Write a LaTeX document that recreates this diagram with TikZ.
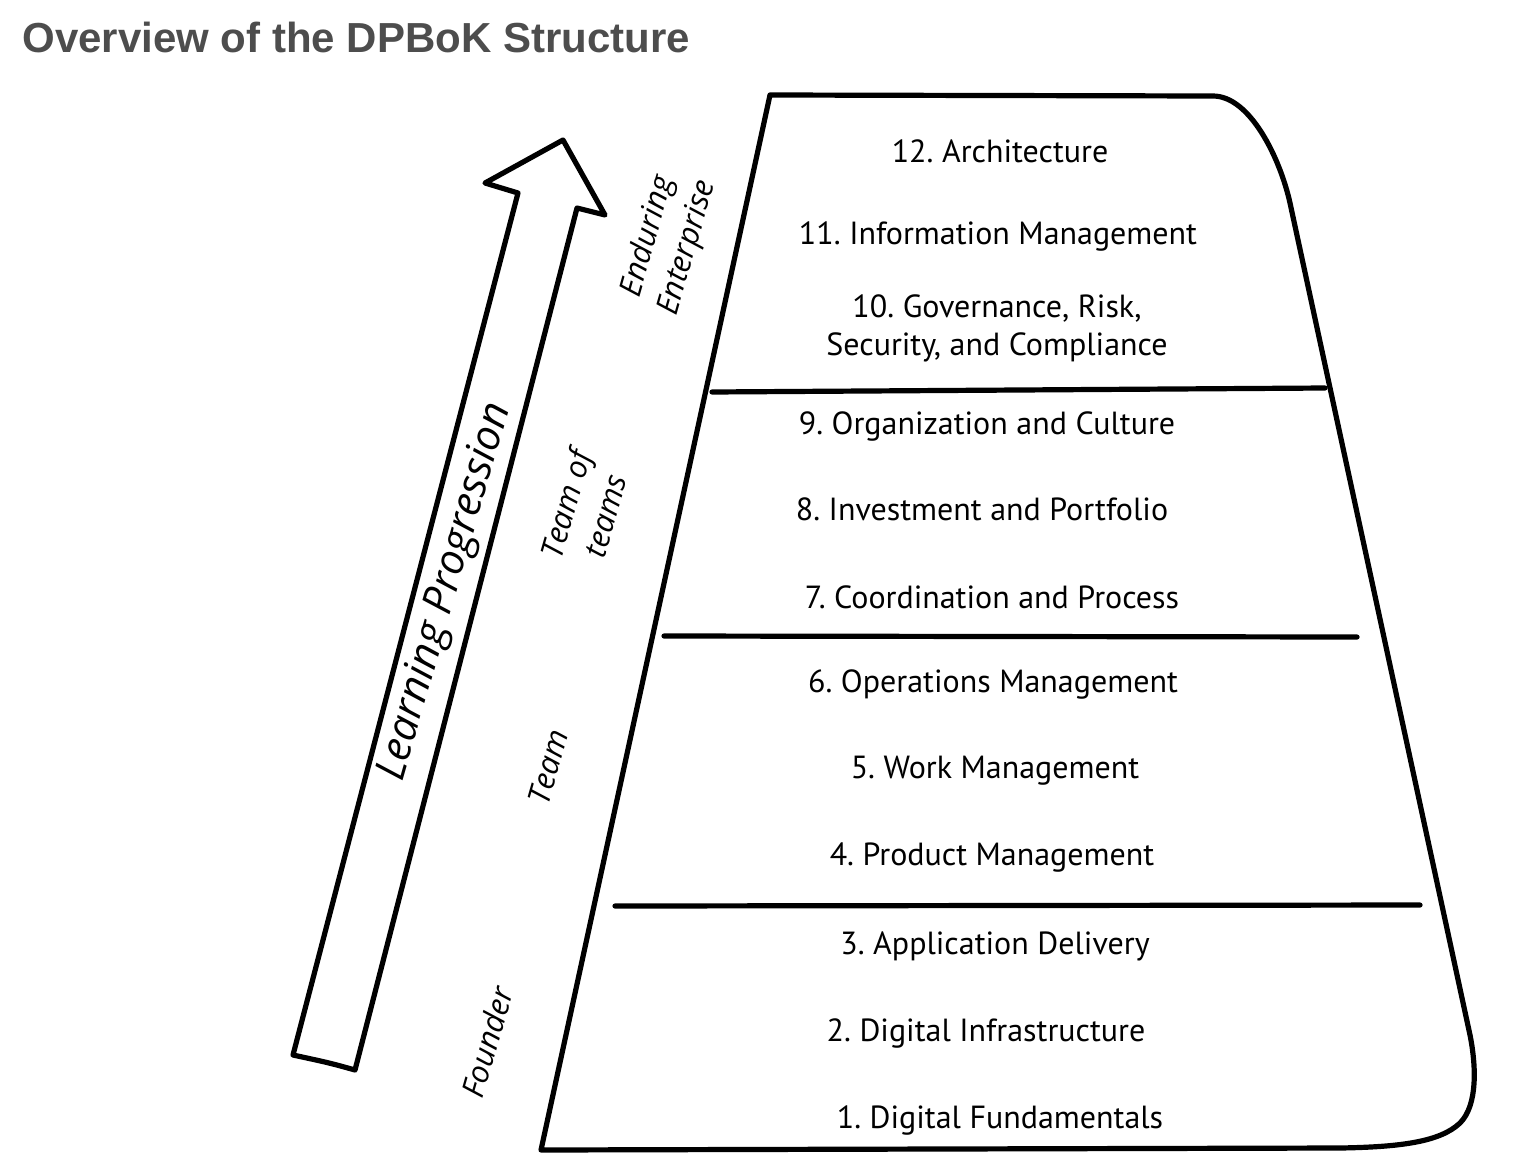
\documentclass[tikz,border=0pt]{standalone}
\usepackage{fontspec}
\setmainfont{PT Sans}
\newfontfamily\handfont{Open Sans}
\newfontfamily\titlefont{Liberation Sans}
\definecolor{dpGray}{HTML}{4D4D4D}
\usetikzlibrary{calc}
\frenchspacing

\begin{document}
\begin{tikzpicture}[
  x=0.5pt, y=-0.5pt,
  outline/.style={line width=2.6pt, line join=round, line cap=round},
  area/.style={font=\fontsize{16}{19}\selectfont, align=center, inner sep=1pt},
  level/.style={font=\handfont\itshape\fontsize{15.5}{20.5}\selectfont, align=center, rotate=74, inner sep=1pt}]
  \useasboundingbox (0,0) rectangle (1520,1162);
  % Title
  \node[anchor=base west, inner sep=0, text=dpGray,
    font=\titlefont\bfseries\fontsize{21}{24}\selectfont] (title) at (22,52)
    {Overview of the DPBoK Structure};
  % Learning arrow
  \draw[outline] (563,140) -- (605,215) -- (577,208) -- (355,1070)
    .. controls (330,1063) .. (293,1055) -- (518,193) -- (485,183) -- cycle;
  \node[level, font=\handfont\itshape\fontsize{21}{24}\selectfont] (learn) at (446,592)
    {Learning Progression};
  % Pyramid outline
  \draw[outline] (541,1150) -- (770,95) -- (1213,96)
    .. controls (1250,96) and (1280,158) .. (1290,203) -- (1470,1035)
    .. controls (1476,1065) and (1478,1105) .. (1460,1123)
    .. controls (1440,1142) and (1400,1147) .. (1340,1148) -- cycle;
  % Dividers
  \draw[outline] (712,392) -- (1325,388);
  \draw[outline] (664,636) -- (1357,637);
  \draw[outline] (615,906) -- (1420,905);
  % Areas
  \foreach \n/\x/\y/\txt in {
      12/1000/151/{12. Architecture},
      11/998/236/{11. Information Management},
      10/997/328/{10. Governance, Risk,\\Security, and Compliance},
      9/987/426/{9. Organization and Culture},
      8/982/509/{8. Investment and Portfolio},
      7/992/597/{7. Coordination and Process},
      6/993/684/{6. Operations Management},
      5/995/771/{5. Work Management},
      4/992/858/{4. Product Management},
      3/995/946/{3. Application Delivery},
      2/986/1033/{2. Digital Infrastructure},
      1/1000/1120/{1. Digital Fundamentals}} {
    \node[area] (a\n) at (\x,\y) {\txt};
  }
  % Stage labels
  \node[level] (enduring) at (668,242) {Enduring\\Enterprise};
  \node[level] (teamofteams) at (585,510) {Team of\\teams};
  \node[level] (team) at (548,767) {Team};
  \node[level] (founder) at (487,1042) {Founder};
\end{tikzpicture}
\end{document}
